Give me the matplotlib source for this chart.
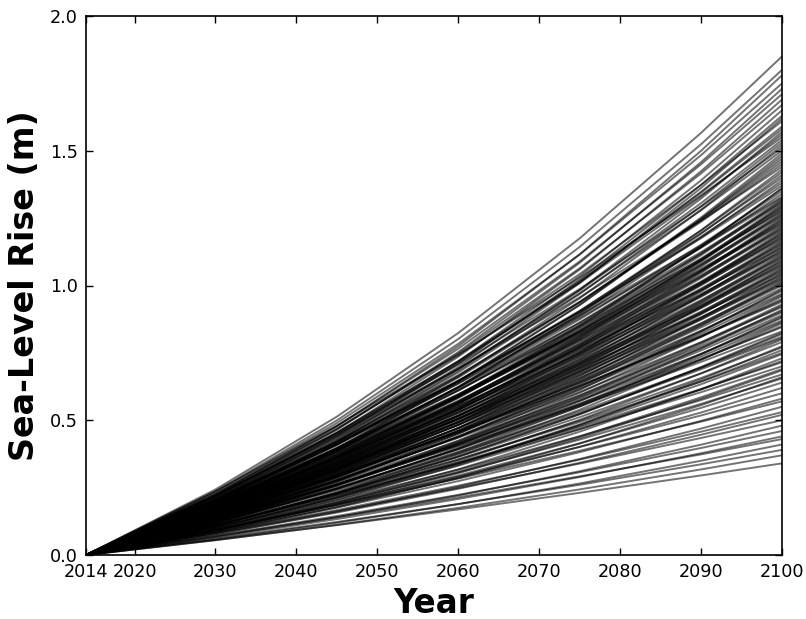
import numpy as np
import matplotlib
matplotlib.use("Agg")
import matplotlib.pyplot as plt

# Years at which each projection is sampled
years = [2014, 2030, 2045, 2060, 2075, 2090, 2100]

# Sea-level rise (m) of each ensemble member at each sampled year
slr_2030 = [
    .0555, .0548, .0607, .0576, .0702, .0652, .0716, .0675, .0817, .0771, .0825, .0773, .0931, .0860, .0934, .0872,
    .0900, .0828, .0993, .0918, .1090, .1012, .0915, .1112, .1011, .1083, .1111, .1003,
    .1200, .1091, .1292, .1195, .1078, .1289, .1170, .1251, .1265, .1141, .1363, .1237, .1464, .1336, .1204, .1438, .1303, .1392,
    .1406, .1267, .1512, .1370, .1619, .1476, .1329, .1586, .1436, .1533, .1547, .1392, .1660, .1503, .1775, .1617, .1455, .1734, .1569, .1673,
    .1505, .1793, .1623, .1915, .1743, .1568, .1867, .1689, .1800, .1814, .1630, .1941, .1756, .2071, .1898, .1705, .2030, .1849,
    .1968, .1889, .1793, .2039, .1955, .1856, .2109, .1906, .2048, .2193, .1969, .2115, .2264, .2044,
    .2069, .2221, .2119, .2274, .2169, .2328, .2232, .2367, .2433,
    .0950, .0891, .1092, .1025, .0949, .1168, .1073, .1290, .1190, .1083, .1313, .1203, .1443, .1328, .1206,
    .1458, .1320, .1565, .1424, .1279, .1531, .1385, .1642, .1493, .1340, .1603, .1450, .1718, .1562, .1401,
    .1676, .1515, .1794, .1631, .1463, .1748, .1580, .1871, .1699, .1524, .1821, .1645, .1947, .1768, .1585,
    .1894, .1710, .2023, .1844, .1665, .2002, .1833, .2199, .2009, .1824, .2191, .1989, .2367, .2174, .1983,
]

slr_2045 = [
    .1108, .1121, .1226, .1195, .1401, .1333, .1446, .1399, .1630, .1575, .1666, .1603, .1858, .1757, .1886, .1807,
    .1865, .1771, .2029, .1931, .2201, .2098, .1959, .2272, .2126, .2244, .2302, .2146,
    .2453, .2294, .2610, .2477, .2307, .2635, .2462, .2593, .2623, .2442, .2787, .2602, .2955, .2768, .2576, .2938, .2742, .2885,
    .2914, .2710, .3090, .2882, .3270, .3060, .2844, .3241, .3022, .3176, .3205, .2978, .3392, .3162, .3584, .3351, .3112, .3544, .3302, .3468,
    .3220, .3665, .3414, .3867, .3613, .3354, .3817, .3553, .3730, .3759, .3488, .3968, .3693, .4182, .3934, .3649, .4150, .3889,
    .4080, .3973, .3837, .4225, .4113, .3971, .4371, .4078, .4309, .4546, .4212, .4449, .4692, .4373,
    .4427, .4673, .4534, .4785, .4642, .4897, .4776, .4995, .5134,
    .1954, .1885, .2215, .2136, .2044, .2401, .2270, .2618, .2480, .2334, .2700, .2546, .2928, .2767, .2597,
    .2998, .2793, .3175, .2967, .2756, .3147, .2931, .3330, .3111, .2888, .3296, .3068, .3485, .3254, .3019,
    .3445, .3206, .3640, .3397, .3151, .3595, .3344, .3795, .3541, .3283, .3744, .3481, .3950, .3684, .3415,
    .3893, .3619, .4105, .3842, .3586, .4117, .3880, .4461, .4186, .3929, .4504, .4211, .4802, .4530, .4272,
]

slr_2060 = [
    .1692, .1749, .1892, .1887, .2140, .2080, .2231, .2209, .2488, .2458, .2571, .2532, .2836, .2742, .2911, .2854,
    .2946, .2874, .3167, .3090, .3396, .3314, .3178, .3545, .3403, .3544, .3636, .3483,
    .3829, .3672, .4026, .3913, .3744, .4112, .3941, .4097, .4143, .3962, .4349, .4165, .4560, .4373, .4180, .4585, .4388, .4557,
    .4603, .4398, .4822, .4612, .5045, .4833, .4615, .5058, .4836, .5017, .5063, .4833, .5294, .5060, .5530, .5293, .5051, .5531, .5284, .5478,
    .5225, .5720, .5463, .5967, .5708, .5443, .5956, .5687, .5892, .5938, .5660, .6192, .5911, .6452, .6214, .5921, .6476, .6224,
    .6444, .6359, .6226, .6674, .6583, .6444, .6905, .6618, .6896, .7181, .6836, .7120, .7411, .7097,
    .7184, .7478, .7358, .7657, .7532, .7837, .7750, .8015, .8238,
    .3063, .3033, .3433, .3392, .3336, .3765, .3653, .4058, .3938, .3809, .4233, .4096, .4538, .4394, .4239,
    .4700, .4494, .4922, .4712, .4498, .4934, .4716, .5162, .4940, .4713, .5168, .4937, .5402, .5168, .4928,
    .5402, .5159, .5642, .5395, .5143, .5636, .5380, .5882, .5623, .5358, .5870, .5601, .6123, .5851, .5574,
    .6103, .5823, .6363, .6101, .5853, .6454, .6243, .6915, .6647, .6413, .7062, .6775, .7443, .7194, .6972,
]

slr_2075 = [
    .2307, .2434, .2606, .2654, .2917, .2894, .3073, .3108, .3392, .3421, .3541, .3561, .3867, .3815, .4009, .4014,
    .4143, .4137, .4407, .4396, .4677, .4661, .4576, .4934, .4842, .4985, .5114, .5014,
    .5328, .5224, .5545, .5503, .5390, .5723, .5606, .5762, .5827, .5704, .6052, .5925, .6280, .6150, .6017, .6381, .6244, .6409,
    .6474, .6331, .6710, .6562, .6948, .6798, .6644, .7038, .6881, .7057, .7121, .6957, .7367, .7199, .7616, .7445, .7271, .7696, .7518, .7704,
    .7522, .7959, .7773, .8218, .8028, .7835, .8288, .8091, .8287, .8351, .8148, .8617, .8410, .8886, .8740, .8524, .9012, .8856,
    .9064, .9047, .8963, .9387, .9365, .9277, .9711, .9527, .9811, 1.0099, .9841, 1.0130, 1.0423, 1.0217,
    1.0342, 1.0640, 1.0593, 1.0894, 1.0844, 1.1149, 1.1157, 1.1432, 1.1749,
    .4281, .4336, .4747, .4793, .4826, .5261, .5222, .5610, .5565, .5511, .5915, .5855, .6274, .6208, .6134,
    .6569, .6425, .6805, .6658, .6507, .6895, .6741, .7137, .6980, .6819, .7222, .7058, .7469, .7301, .7130,
    .7549, .7374, .7801, .7623, .7441, .7876, .7691, .8133, .7945, .7753, .8203, .8007, .8465, .8266, .8064,
    .8529, .8324, .8797, .8620, .8469, .9020, .8925, .9560, .9392, .9278, .9869, .9685, 1.0290, 1.0164, 1.0088,
]

slr_2090 = [
    .2952, .3175, .3366, .3497, .3734, .3775, .3971, .4094, .4342, .4462, .4575, .4691, .4949, .4976, .5179, .5288,
    .5459, .5561, .5749, .5850, .6042, .6141, .6151, .6435, .6443, .6567, .6738, .6741,
    .6950, .6952, .7165, .7250, .7246, .7465, .7461, .7591, .7676, .7668, .7894, .7885, .8114, .8103, .8089, .8323, .8308, .8444,
    .8529, .8510, .8752, .8732, .8977, .8955, .8932, .9181, .9156, .9297, .9382, .9353, .9610, .9580, .9840, .9808, .9774, 1.0039, 1.0004, 1.0150,
    1.0111, 1.0382, 1.0343, 1.0617, 1.0576, 1.0533, 1.0811, 1.0767, 1.0917, 1.1002, 1.0954, 1.1240, 1.1191, 1.1481, 1.1514, 1.1459, 1.1755, 1.1784,
    1.1941, 1.2039, 1.2049, 1.2367, 1.2463, 1.2470, 1.2794, 1.2808, 1.3056, 1.3305, 1.3229, 1.3480, 1.3732, 1.3734,
    1.3903, 1.4158, 1.4240, 1.4497, 1.4577, 1.4837, 1.4998, 1.5241, 1.5664,
    .5607, .5793, .6157, .6338, .6515, .6891, .6977, .7276, .7359, .7439, .7747, .7823, .8137, .8210, .8280,
    .8603, .8584, .8826, .8806, .8784, .9031, .9007, .9257, .9231, .9205, .9459, .9430, .9687, .9657, .9625,
    .9887, .9852, 1.0118, 1.0082, 1.0045, 1.0315, 1.0275, 1.0548, 1.0507, 1.0465, 1.0743, 1.0698, 1.0979, 1.0933, 1.0886,
    1.1171, 1.1121, 1.1410, 1.1401, 1.1432, 1.1813, 1.1924, 1.2400, 1.2422, 1.2525, 1.2926, 1.2939, 1.3347, 1.3443, 1.3618,
]

slr_2100 = [
    0.34, 0.37, 0.39, 0.41, 0.43, 0.44, 0.46, 0.48, 0.50, 0.52, 0.53, 0.55, 0.57, 0.58, 0.60, 0.62,
    0.64, 0.66, 0.67, 0.69, 0.70, 0.72, 0.73, 0.75, 0.76, 0.77, 0.79, 0.80,
    0.81, 0.82, 0.83, 0.85, 0.86, 0.87, 0.88, 0.89, 0.90, 0.91, 0.92, 0.93, 0.94, 0.95, 0.96, 0.97, 0.98, 0.99,
    1.00, 1.01, 1.02, 1.03, 1.04, 1.05, 1.06, 1.07, 1.08, 1.09, 1.10, 1.11, 1.12, 1.13, 1.14, 1.15, 1.16, 1.17, 1.18, 1.19,
    1.20, 1.21, 1.22, 1.23, 1.24, 1.25, 1.26, 1.27, 1.28, 1.29, 1.30, 1.31, 1.32, 1.33, 1.35, 1.36, 1.37, 1.39,
    1.40, 1.42, 1.43, 1.45, 1.47, 1.48, 1.50, 1.52, 1.54, 1.56, 1.57, 1.59, 1.61, 1.63,
    1.65, 1.67, 1.69, 1.71, 1.73, 1.75, 1.78, 1.80, 1.85,
    0.655, 0.685, 0.715, 0.745, 0.775, 0.805, 0.825, 0.845, 0.865, 0.885, 0.905, 0.925, 0.945, 0.965, 0.985,
    1.005, 1.015, 1.025, 1.035, 1.045, 1.055, 1.065, 1.075, 1.085, 1.095, 1.105, 1.115, 1.125, 1.135, 1.145,
    1.155, 1.165, 1.175, 1.185, 1.195, 1.205, 1.215, 1.225, 1.235, 1.245, 1.255, 1.265, 1.275, 1.285, 1.295,
    1.305, 1.315, 1.325, 1.34, 1.36, 1.38, 1.41, 1.44, 1.46, 1.49, 1.51, 1.53, 1.55, 1.58, 1.62,
]

slr_2014 = [0.0] * len(slr_2100)

xticks = [2014, 2020, 2030, 2040, 2050, 2060, 2070, 2080, 2090, 2100]
yticks = [0.0, 0.5, 1.0, 1.5, 2.0]

plt.rcParams['font.family'] = ['DejaVu Sans']

fig = plt.figure(figsize=(8.06, 6.19), dpi=100)
ax = fig.add_axes([86 / 806, 1 - 555 / 619, (782 - 86) / 806, (555 - 16) / 619])

series = np.array([slr_2014, slr_2030, slr_2045, slr_2060, slr_2075, slr_2090, slr_2100])
ax.plot(years, series, color='black', linewidth=1.4, alpha=0.55, solid_capstyle='butt')

ax.set_xlim(2014, 2100)
ax.set_ylim(0, 2.0)
ax.set_xticks(xticks)
ax.set_xticklabels([str(x) for x in xticks])
ax.set_yticks(yticks)
ax.set_yticklabels([f"{y:.1f}" for y in yticks])
ax.tick_params(direction='in', top=True, right=True, length=5, width=1,
               labelsize=12.7, pad=6)
for s in ax.spines.values():
    s.set_linewidth(1.2)

ax.set_xlabel('Year', fontsize=23.5, fontweight='bold', labelpad=4)
ax.set_ylabel('Sea-Level Rise (m)', fontsize=24, fontweight='bold', labelpad=6)

fig.savefig('out.png', dpi=100)
